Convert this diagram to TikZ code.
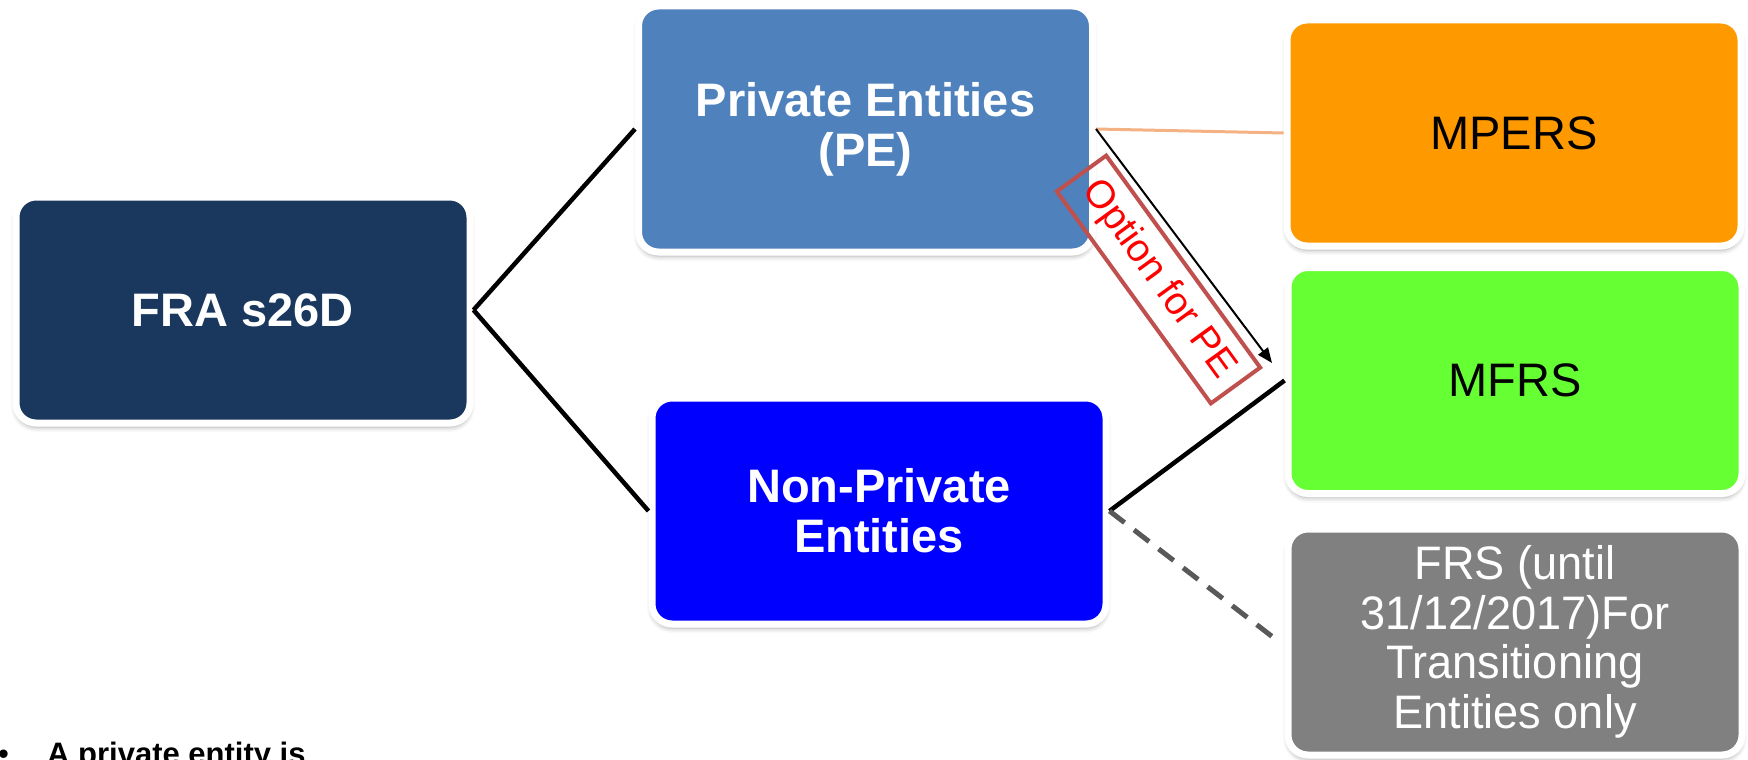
\documentclass[tikz,border=0pt]{standalone}
\usepackage{fontspec}
\setmainfont{Liberation Sans}
\newfontfamily\narrowfont[FakeStretch=0.96]{Liberation Sans}
\usetikzlibrary{arrows.meta,shadows.blur}
\definecolor{fracol}{RGB}{26,55,94}
\definecolor{pecol}{RGB}{79,129,189}
\definecolor{npecol}{RGB}{0,0,255}
\definecolor{mperscol}{RGB}{255,153,0}
\definecolor{mfrscol}{RGB}{102,255,51}
\definecolor{frscol}{RGB}{128,128,128}
\definecolor{salmon}{RGB}{244,177,131}
\definecolor{optcol}{RGB}{192,80,77}
\definecolor{dashcol}{RGB}{89,89,89}
\begin{document}
\begin{tikzpicture}[x=1pt,y=-1pt,
  box/.style={draw=white, line width=7pt, rounded corners=20pt,
     minimum width=454pt, minimum height=226pt, align=center, inner sep=0pt,
     blur shadow={shadow xshift=0pt, shadow yshift=-4pt, shadow blur radius=5pt, shadow opacity=35}},
  big/.style={font=\fontsize{47}{50}\selectfont},
  bigb/.style={font=\fontsize{47}{50}\selectfont\bfseries},
  link/.style={line width=4.5pt, black},
]
\useasboundingbox (0,0) rectangle (1748,760);
\node[box, fill=fracol, text=white, bigb] (fra) at (243,310) {FRA s26D};
\node[box, fill=pecol, text=white, bigb, minimum height=246pt] (pe) at (865.5,129) {Private Entities\\(PE)};
\node[box, fill=npecol, text=white, bigb] (npe) at (879,511) {Non-Private\\Entities};
\node[box, fill=mperscol, text=black, big] (mpers) at (1514,133) {MPERS};
\node[box, fill=mfrscol, text=black, big] (mfrs) at (1515,380.5) {MFRS};
\node[box, fill=frscol, text=white, font=\fontsize{47}{49.5}\narrowfont] (frs) at (1515,642) {FRS (until\\31/12/2017)For\\Transitioning\\Entities only};

\coordinate (arrowend) at (1272,363);
\coordinate (dashend) at (1274,638);

\draw[link] (fra.east) -- (pe.west);
\draw[link] (fra.east) -- (npe.west);
\draw[salmon, line width=3pt] (pe.east) -- (mpers.west);
\draw[link] (npe.east) -- (mfrs.west);
\draw[dashcol, line width=5pt, dash pattern=on 19pt off 12pt] (npe.east) -- (dashend);

\node[draw=optcol, line width=4pt, minimum width=262pt, minimum height=61pt, rotate=-54,
      text=red, font=\fontsize{39}{42}\selectfont, inner sep=0pt] (opt) at (1158.5,279.5) {Option for PE};
\draw[line width=2pt, -{Triangle[length=15pt,width=12pt]}] (pe.east) -- (arrowend);

\node[anchor=base west, inner sep=0pt, font=\fontsize{31}{34}\selectfont] (dot) at (-2,764) {•};
\node[anchor=base west, inner sep=0pt, font=\fontsize{31}{34}\selectfont\bfseries] (bul) at (47,764) {A private entity is};
\end{tikzpicture}
\end{document}
